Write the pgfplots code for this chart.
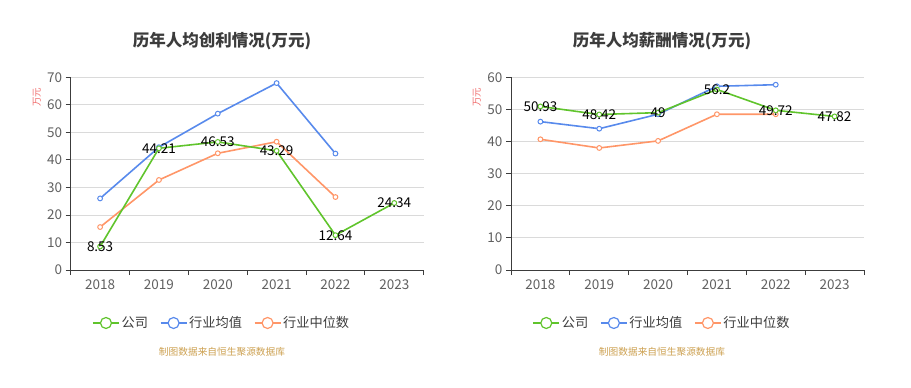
\documentclass[border=0pt]{standalone}
\usepackage{fontspec}
\setmainfont{Noto Sans CJK SC}
\usepackage{pgfplots}
\pgfplotsset{compat=1.18}
\definecolor{gcol}{RGB}{96,196,44}
\definecolor{bcol}{RGB}{88,138,236}
\definecolor{ocol}{RGB}{255,150,104}
\definecolor{tickc}{RGB}{96,96,96}
\definecolor{axc}{RGB}{60,60,60}
\definecolor{gridc}{RGB}{218,218,218}
\definecolor{srcc}{RGB}{204,160,80}
\definecolor{unitc}{RGB}{240,110,110}
\pgfplotsset{
  /pgf/number format/assume math mode=true,
  myaxis/.style={
    scale only axis, width=353pt, height=192.7pt,
    anchor=south west, clip=false,
    xmin=-0.5, xmax=5.5, ymin=0,
    axis x line=bottom, axis y line=left,
    axis line style={axc, line width=0.8pt, -},
    xtick={0,...,5},
    xticklabels={2018,2019,2020,2021,2022,2023},
    minor xtick={-0.5,0.5,...,5.5},
    major x tick style={draw=none},
    minor x tick style={axc, line width=0.8pt},
    minor tick length=5pt,
    major tick length=5pt,
    y tick style={axc, line width=0.8pt},
    tick align=outside,
    ymajorgrids, grid style={gridc, line width=0.8pt},
    ticklabel style={font=\fontsize{13.5}{15}\selectfont, text=tickc},
    xticklabel style={yshift=-1pt},
    legend columns=3, reverse legend,
    legend style={draw=none, fill=none, font=\fontsize{13.2}{15}\selectfont, text=axc,
      at={(axis description cs:0.428,-0.275)}, anchor=center,
      /tikz/every even column/.append style={column sep=10pt}},
    every axis plot/.append style={line width=1.6pt, mark=*, mark size=2.4pt, mark options={fill=white, line width=1pt}},
  },
  gleg/.style={legend image code/.code={\draw[gcol, line width=1.2pt] (0pt,0pt)--(26pt,0pt); \draw[gcol,fill=white,line width=1.2pt] (13pt,0pt) circle (5.5pt);}},
  bleg/.style={legend image code/.code={\draw[bcol, line width=1.2pt] (0pt,0pt)--(26pt,0pt); \draw[bcol,fill=white,line width=1.2pt] (13pt,0pt) circle (5.5pt);}},
  oleg/.style={legend image code/.code={\draw[ocol, line width=1.2pt] (0pt,0pt)--(26pt,0pt); \draw[ocol,fill=white,line width=1.2pt] (13pt,0pt) circle (5.5pt);}},
  labs/.style={nodes near coords, point meta=explicit symbolic,
    every node near coord/.append style={anchor=center, font=\fontsize{13.5}{15}\selectfont, text=black}},
}
\begin{document}
\begin{tikzpicture}
\path (0pt,0pt) rectangle (911pt,-388pt);
% Left chart
\node[font=\bfseries\fontsize{16.5}{18}\selectfont, text=axc] at (222pt,-41pt) {历年人均创利情况(万元)};
\node[rotate=90, font=\fontsize{9.5}{10}\selectfont, text=unitc] at (37pt,-97pt) {万元};
\node[font=\fontsize{9.7}{11}\selectfont, text=srcc] at (222pt,-352pt) {制图数据来自恒生聚源数据库};
\begin{axis}[myaxis, at={(70.7pt,-270pt)}, ymax=70, ytick={0,10,...,70}]
\addplot[ocol, oleg] coordinates {(0,15.6) (1,32.7) (2,42.4) (3,46.6) (4,26.5)};
\addplot[bcol, bleg] coordinates {(0,26.0) (1,44.6) (2,56.8) (3,67.9) (4,42.3)};
\addplot[gcol, gleg, labs] coordinates {(0,8.53)[8.53] (1,44.21)[44.21] (2,46.53)[46.53] (3,43.29)[43.29] (4,12.64)[12.64] (5,24.34)[24.34]};
\legend{行业中位数,行业均值,公司}
\end{axis}
% Right chart
\node[font=\bfseries\fontsize{16.5}{18}\selectfont, text=axc] at (662pt,-41pt) {历年人均薪酬情况(万元)};
\node[rotate=90, font=\fontsize{9.5}{10}\selectfont, text=unitc] at (477pt,-97pt) {万元};
\node[font=\fontsize{9.7}{11}\selectfont, text=srcc] at (662pt,-352pt) {制图数据来自恒生聚源数据库};
\begin{axis}[myaxis, at={(511pt,-270pt)}, ymax=60, ytick={0,10,...,60}]
\addplot[ocol, oleg] coordinates {(0,40.7) (1,38.0) (2,40.2) (3,48.5) (4,48.5)};
\addplot[bcol, bleg] coordinates {(0,46.2) (1,44.0) (2,48.5) (3,57.2) (4,57.7)};
\addplot[gcol, gleg, labs] coordinates {(0,50.93)[50.93] (1,48.42)[48.42] (2,49)[49] (3,56.2)[56.2] (4,49.72)[49.72] (5,47.82)[47.82]};
\legend{行业中位数,行业均值,公司}
\end{axis}
\end{tikzpicture}
\end{document}
